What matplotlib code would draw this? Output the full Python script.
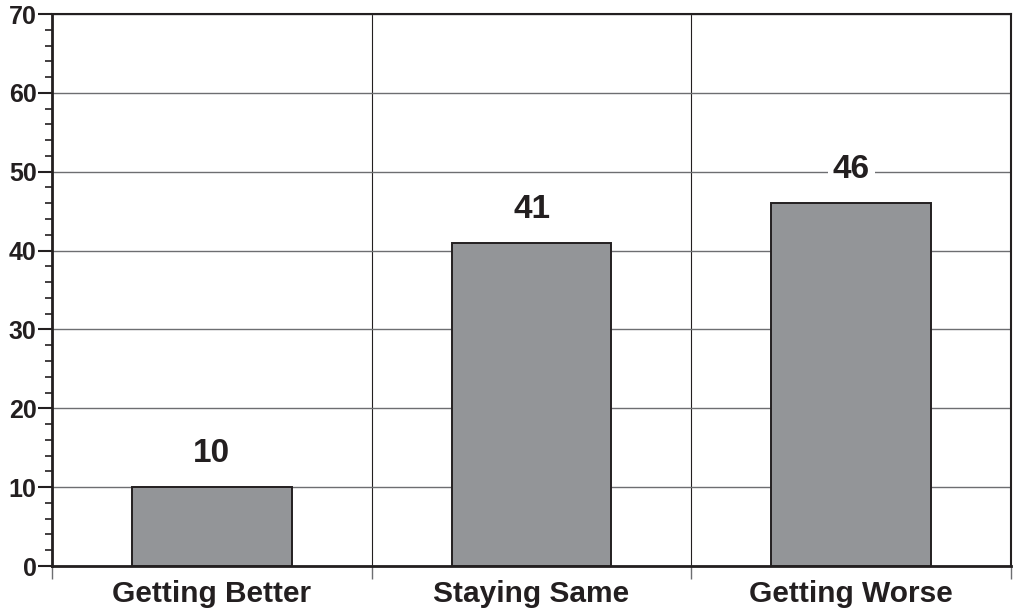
import matplotlib
matplotlib.use('Agg')
import matplotlib.pyplot as plt
from matplotlib.ticker import MultipleLocator, FixedLocator

# Дані
categories = ['Getting Better', 'Staying Same', 'Getting Worse']
values = [10, 41, 46]

plt.rcParams['font.family'] = ['Liberation Sans', 'DejaVu Sans']
dark = '#231f20'
grid_col = '#6d6e71'

fig = plt.figure(figsize=(10.14, 6.12), dpi=100)
ax = fig.add_axes([52 / 1014, 1 - 566 / 612, 959 / 1014, 552 / 612])

x = list(range(len(categories)))
ax.bar(x, values, width=0.5, color='#939598', edgecolor=dark, linewidth=1.4, zorder=3)

for xi, v in zip(x, values):
    ax.annotate(str(v), (xi, v), xytext=(0, 24), textcoords='offset points',
                ha='center', va='center', fontsize=24, fontweight='bold', color=dark,
                bbox=dict(boxstyle='square,pad=0.15', fc='white', ec='none'), zorder=5)

ax.set_xlim(-0.5, 2.5)
ax.set_ylim(0, 70)

# Вісь Y
ax.yaxis.set_major_locator(MultipleLocator(10))
ax.yaxis.set_minor_locator(MultipleLocator(2))
ax.tick_params(axis='y', which='major', length=10, width=1.5, color=dark,
               labelsize=18, labelcolor=dark, pad=1)
ax.tick_params(axis='y', which='minor', length=5, width=1.2, color=dark)
for lbl in ax.get_yticklabels():
    lbl.set_fontweight('bold')

# Вісь X: межі категорій як поділки, підписи по центру
ax.xaxis.set_major_locator(FixedLocator([-0.5, 0.5, 1.5, 2.5]))
ax.xaxis.set_minor_locator(FixedLocator(x))
ax.set_xticklabels([], minor=False)
ax.set_xticklabels(categories, minor=True, fontsize=21.5, fontweight='bold', color=dark)
ax.tick_params(axis='x', which='major', length=9, width=1, color=grid_col)
ax.tick_params(axis='x', which='minor', length=0, pad=10)

ax.grid(axis='y', which='major', color=grid_col, linewidth=1, zorder=0)
ax.grid(axis='x', which='major', color=dark, linewidth=0.8, zorder=0)
ax.set_axisbelow(True)

for s in ['left', 'bottom']:
    ax.spines[s].set_linewidth(2)
    ax.spines[s].set_color(dark)
for s in ['top', 'right']:
    ax.spines[s].set_linewidth(1.5)
    ax.spines[s].set_color(dark)

fig.savefig('out.png', dpi=100)
